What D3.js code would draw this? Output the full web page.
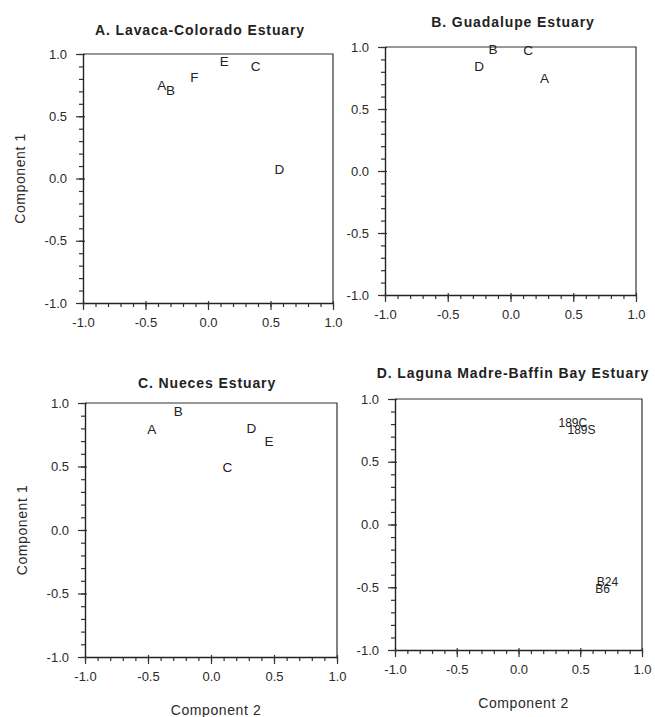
<!DOCTYPE html>
<html>
<head>
<meta charset="utf-8">
<script src="https://cdn.jsdelivr.net/npm/d3@7"></script>
<style>
  body { margin: 0; background: #fff; }
  svg { display: block; font-family: "Liberation Sans", Arial, sans-serif; }
</style>
</head>
<body>
<div id="chart"></div>
<script>
// Panel titles
const titles = [
  'A. Lavaca-Colorado Estuary',
  'B. Guadalupe Estuary',
  'C. Nueces Estuary',
  'D. Laguna Madre-Baffin Bay Estuary'
];

// Point labels and loadings (x = Component 2, y = Component 1)
const labelsA = ['A', 'B', 'F', 'E', 'C', 'D'];
const comp2A = [-0.37, -0.30, -0.11, 0.13, 0.38, 0.57];
const comp1A = [0.75, 0.71, 0.81, 0.94, 0.90, 0.07];

const labelsB = ['B', 'C', 'D', 'A'];
const comp2B = [-0.14, 0.14, -0.25, 0.27];
const comp1B = [0.98, 0.97, 0.84, 0.75];

const labelsC = ['A', 'B', 'D', 'E', 'C'];
const comp2C = [-0.47, -0.26, 0.32, 0.46, 0.13];
const comp1C = [0.79, 0.93, 0.80, 0.70, 0.49];

const labelsD = ['189C', '189S', 'B24', 'B6'];
const comp2D = [0.44, 0.51, 0.72, 0.68];
const comp1D = [0.81, 0.75, -0.46, -0.51];

// Axis ticks
const majorTicks = [-1.0, -0.5, 0.0, 0.5, 1.0];
const minorTicks = d3.range(-10, 11).map(i => i / 10);

const W = 655, H = 717;

const panels = [
  { title: titles[0], labels: labelsA, xs: comp2A, ys: comp1A, x0: 83, x1: 333, y0: 54, y1: 303, tx: 200, ty: 35, fs: 13.5, yLabel: true, xLabel: false },
  { title: titles[1], labels: labelsB, xs: comp2B, ys: comp1B, x0: 385, x1: 636, y0: 47, y1: 295, tx: 513, ty: 27, fs: 13.5, yLabel: false, xLabel: false },
  { title: titles[2], labels: labelsC, xs: comp2C, ys: comp1C, x0: 85, x1: 337, y0: 403, y1: 657, tx: 207, ty: 388, fs: 13.5, yLabel: true, xLabel: true },
  { title: titles[3], labels: labelsD, xs: comp2D, ys: comp1D, x0: 395, x1: 642, y0: 399, y1: 650, tx: 513, ty: 378, fs: 12, yLabel: false, xLabel: true }
];

const svg = d3.select('#chart').append('svg')
  .attr('width', W)
  .attr('height', H);

// plain hyphen for negatives, like the original
const fmt = d => d.toFixed(1);

panels.forEach(p => {
  const x = d3.scaleLinear().domain([-1, 1]).range([p.x0, p.x1]);
  const y = d3.scaleLinear().domain([-1, 1]).range([p.y1, p.y0]);
  const g = svg.append('g');

  // frame (top and right)
  g.append('path')
    .attr('d', `M${p.x0},${p.y0}H${p.x1}V${p.y1}`)
    .attr('fill', 'none')
    .attr('stroke', '#333')
    .attr('stroke-width', 1.2);

  // minor ticks
  const minorX = g.append('g')
    .attr('transform', `translate(0,${p.y1})`)
    .call(d3.axisBottom(x).tickValues(minorTicks).tickSize(4).tickFormat(''));
  const minorY = g.append('g')
    .attr('transform', `translate(${p.x0},0)`)
    .call(d3.axisLeft(y).tickValues(minorTicks).tickSize(4).tickFormat(''));
  [minorX, minorY].forEach(a => a.select('.domain').remove());

  // major ticks + labels
  const xAxis = g.append('g')
    .attr('transform', `translate(0,${p.y1})`)
    .call(d3.axisBottom(x).tickValues(majorTicks).tickSize(7).tickPadding(8).tickFormat(fmt).tickSizeOuter(0));
  xAxis.selectAll('.tick line').attr('y1', -2);

  const yAxis = g.append('g')
    .attr('transform', `translate(${p.x0},0)`)
    .call(d3.axisLeft(y).tickValues(majorTicks).tickSize(7).tickPadding(9).tickFormat(fmt).tickSizeOuter(0));
  yAxis.selectAll('.tick line').attr('x1', 2);

  g.selectAll('.domain').attr('stroke', '#222').attr('stroke-width', 1.4);
  g.selectAll('.tick line').attr('stroke', '#333').attr('stroke-width', 1.2);
  g.selectAll('.tick text')
    .attr('font-size', 13)
    .attr('fill', '#2a2a2a')
    .attr('font-family', '"Liberation Sans", Arial, sans-serif');

  // title
  g.append('text')
    .attr('x', p.tx)
    .attr('y', p.ty)
    .attr('text-anchor', 'middle')
    .attr('font-size', 14)
    .attr('letter-spacing', 0.9)
    .attr('font-weight', 'bold')
    .attr('fill', '#222')
    .text(p.title);

  // axis titles
  if (p.yLabel) {
    g.append('text')
      .attr('transform', `translate(${p.x0 - 58},${(p.y0 + p.y1) / 2}) rotate(-90)`)
      .attr('text-anchor', 'middle')
      .attr('font-size', 14)
      .attr('letter-spacing', 0.6)
      .attr('fill', '#2a2a2a')
      .text('Component 1');
  }
  if (p.xLabel) {
    g.append('text')
      .attr('x', (p.x0 + p.x1) / 2 + 5)
      .attr('y', p.y1 + 58)
      .attr('text-anchor', 'middle')
      .attr('font-size', 14)
      .attr('letter-spacing', 0.6)
      .attr('fill', '#2a2a2a')
      .text('Component 2');
  }

  // point labels
  g.append('g')
    .selectAll('text')
    .data(p.labels)
    .join('text')
    .attr('x', (d, i) => x(p.xs[i]))
    .attr('y', (d, i) => y(p.ys[i]))
    .attr('text-anchor', 'middle')
    .attr('dominant-baseline', 'central')
    .attr('font-size', p.fs)
    .attr('fill', '#222')
    .text(d => d);
});
</script>
</body>
</html>
